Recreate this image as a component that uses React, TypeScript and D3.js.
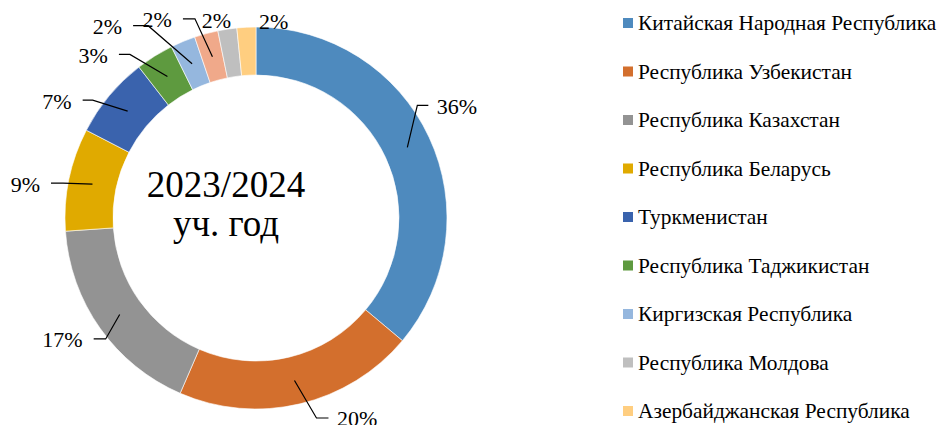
import React from "react";
import * as d3 from "d3";

// ---- data ----
const categories = [
  "Китайская Народная Республика",
  "Республика Узбекистан",
  "Республика Казахстан",
  "Республика Беларусь",
  "Туркменистан",
  "Республика Таджикистан",
  "Киргизская Республика",
  "",
  "Республика Молдова",
  "Азербайджанская Республика",
];
const shares = [36.1, 20.4, 17.4, 8.7, 6.9, 3.2, 2.1, 2.0, 1.6, 1.6];
const valueLabels = ["36%", "20%", "17%", "9%", "7%", "3%", "2%", "2%", "2%", "2%"];
const centerTitle = ["2023/2024", "уч. год"];

// ---- styling / layout ----
const colors = [
  "#4E8ABE",
  "#D36F2D",
  "#939393",
  "#E0AA00",
  "#3A63AD",
  "#5E9A3F",
  "#95B7DE",
  "#F0A98A",
  "#BFBFBF",
  "#FFCE80",
];
// label end-point offsets from the slice anchor, side and leader flag
const labelLayout = [
  { ex: 21, ey: -42, side: "right", leader: true, elbow: 11 },
  { ex: 34, ey: 37.5, side: "right", leader: true, elbow: 12 },
  { ex: -26, ey: 24.5, side: "left", leader: true, elbow: 12 },
  { ex: -41.5, ey: -1, side: "left", leader: true, elbow: 12 },
  { ex: -45, ey: -11, side: "left", leader: true, elbow: 10 },
  { ex: -48.5, ey: -22, side: "left", leader: true, elbow: 11 },
  { ex: -59, ey: -38, side: "left", leader: true, elbow: 15 },
  { ex: -29.5, ey: -38, side: "left", leader: true, elbow: 12 },
  { ex: -14.5, ey: -33, side: "center", leader: false, elbow: 0 },
  { ex: 26, ey: -31, side: "center", leader: false, elbow: 0 },
];

const W = 938;
const H = 425;
const cx = 256;
const cy = 218;
const outerR = 191;
const innerR = 143;
const FONT = "'Liberation Serif', 'Times New Roman', 'DejaVu Serif', serif";

export default function App() {
  const pie = d3
    .pie<number>()
    .value((d) => d)
    .sort(null)
    .startAngle(0)
    .endAngle(2 * Math.PI);
  const arcs = pie(shares);
  const arc = d3.arc<d3.PieArcDatum<number>>().innerRadius(innerR).outerRadius(outerR);
  const midR = (innerR + outerR) / 2;
  const anchorArc = d3.arc<d3.PieArcDatum<number>>().innerRadius(midR).outerRadius(midR);

  const legendItems = categories
    .map((name, i) => ({ name, color: colors[i] }))
    .filter((d) => d.name !== "");
  const legendY = d3
    .scalePoint<number>()
    .domain(d3.range(legendItems.length))
    .range([23, 411]);

  return (
    <svg
      width={W}
      height={H}
      style={{ position: "absolute", left: 0, top: 0, background: "#fff" }}
    >
      <g transform={`translate(${cx},${cy})`}>
        {arcs.map((a, i) => (
          <path key={i} d={arc(a) || ""} fill={colors[i]} stroke="#fff" strokeWidth={0.6} />
        ))}
      </g>
      {arcs.map((a, i) => {
        const [ax0, ay0] = anchorArc.centroid(a);
        const ax = cx + ax0;
        const ay = cy + ay0;
        const L = labelLayout[i];
        const exP = ax + L.ex;
        const eyP = ay + L.ey;
        const dir = L.side === "right" ? 1 : -1;
        const elbowX = exP - dir * L.elbow;
        const line = d3.line()([
          [ax, ay],
          [elbowX, eyP],
          [exP, eyP],
        ]);
        let tx = exP;
        let anchor: "start" | "end" | "middle" = "middle";
        if (L.side === "right") {
          tx = exP + 8.5;
          anchor = "start";
        } else if (L.side === "left") {
          tx = exP - 11;
          anchor = "end";
        }
        return (
          <g key={i}>
            {L.leader && (
              <path d={line || ""} fill="none" stroke="#000" strokeWidth={1.2} />
            )}
            <text
              x={tx}
              y={eyP + 1}
              dy="0.34em"
              textAnchor={anchor}
              fontSize={22}
              fontFamily={FONT}
              fill="#000"
            >
              {valueLabels[i]}
            </text>
          </g>
        );
      })}
      <text x={226} y={197} textAnchor="middle" fontSize={37} fontFamily={FONT} fill="#000">
        {centerTitle[0]}
      </text>
      <text x={226} y={236} textAnchor="middle" fontSize={37} fontFamily={FONT} fill="#000">
        {centerTitle[1]}
      </text>
      {legendItems.map((d, i) => (
        <g key={i} transform={`translate(623,${legendY(i)})`}>
          <rect x={0} y={-5} width={10} height={10} fill={d.color} />
          <text x={15} y={0} dy="0.34em" fontSize={21.4} fontFamily={FONT} fill="#000">
            {d.name}
          </text>
        </g>
      ))}
    </svg>
  );
}
